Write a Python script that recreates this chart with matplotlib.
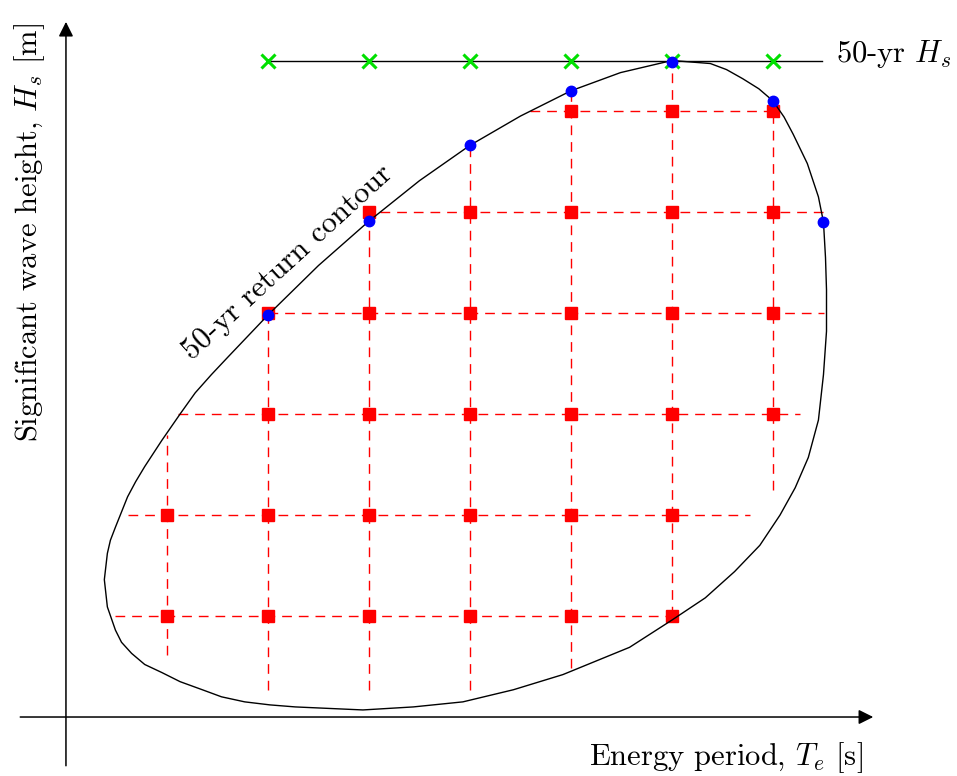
import numpy as np
import matplotlib
matplotlib.use("Agg")
import matplotlib.pyplot as plt

plt.rcParams['font.family'] = ['cmr10', 'DejaVu Serif']
plt.rcParams['mathtext.fontset'] = 'cm'
plt.rcParams['axes.formatter.use_mathtext'] = True

# 50-yr return contour (Te, Hs), clockwise from the top
contour_te = [6.00, 6.38, 6.54, 6.70, 6.86, 7.00, 7.11, 7.20, 7.34, 7.45, 7.50, 7.52,
              7.53, 7.53, 7.50, 7.45, 7.35, 7.22, 7.07, 6.87, 6.62, 6.33, 6.00, 5.58,
              4.92, 4.43, 3.93, 3.44, 2.94, 2.27, 2.02, 1.77, 1.54, 1.35, 1.13, 0.95,
              0.78, 0.65, 0.55, 0.49, 0.41, 0.38, 0.41, 0.44, 0.49, 0.61, 0.69, 0.78,
              0.95, 1.13, 1.28, 1.44, 1.60, 1.80, 2.00, 2.50, 3.00, 3.50, 4.00, 4.50,
              5.00, 5.49, 6.00]
contour_hs = [6.50, 6.47, 6.41, 6.32, 6.22, 6.10, 5.94, 5.77, 5.48, 5.15, 4.90, 4.55,
              4.23, 3.82, 3.39, 2.94, 2.57, 2.27, 2.00, 1.70, 1.44, 1.18, 0.96, 0.69,
              0.42, 0.27, 0.15, 0.10, 0.07, 0.10, 0.12, 0.15, 0.20, 0.27, 0.35, 0.44,
              0.52, 0.63, 0.74, 0.86, 1.09, 1.36, 1.62, 1.75, 1.88, 2.18, 2.33, 2.48,
              2.74, 3.00, 3.21, 3.39, 3.56, 3.77, 3.98, 4.47, 4.91, 5.31, 5.66, 5.95,
              6.20, 6.38, 6.50]

# grid points (rows of Hs with the Te columns present)
grid_rows = [1, 2, 3, 4, 5, 6]
grid_cols = [[1, 2, 3, 4, 5, 6],
             [1, 2, 3, 4, 5, 6],
             [2, 3, 4, 5, 6, 7],
             [2, 3, 4, 5, 6, 7],
             [3, 4, 5, 6, 7],
             [5, 6, 7]]

# dashed horizontal lines: Hs, Te start, Te end
h_hs = [1, 2, 3, 4, 5, 6]
h_start = [0.49, 0.61, 1.11, 2.00, 3.11, 4.59]
h_end = [6.00, 6.77, 7.27, 7.51, 7.51, 7.00]

# dashed vertical lines: Te, Hs bottom, Hs top
v_te = [1, 2, 3, 4, 5, 6, 7]
v_bottom = [0.61, 0.27, 0.27, 0.27, 0.49, 1.00, 2.25]
v_top = [2.79, 3.98, 4.91, 5.66, 6.20, 6.50, 6.10]

# points on the contour
dot_te = [2, 3, 4, 5, 6, 7, 7.5]
dot_hs = [3.98, 4.91, 5.66, 6.20, 6.49, 6.10, 4.90]

# 50-yr Hs line
hs50 = 6.5
cross_te = [2, 3, 4, 5, 6, 7]
hs50_te_end = 7.49

fig = plt.figure(figsize=(9.57, 7.76), dpi=100)
ax = fig.add_axes([0, 0, 1, 1])
ax.set_xlim(-0.653, 8.822)
ax.set_ylim(-0.584, 7.099)
ax.axis('off')

# axes with arrows
ax.annotate('', xy=(8.02, 0), xytext=(-0.48, 0),
            arrowprops=dict(arrowstyle='-|>', color='black', lw=1.1, mutation_scale=22))
ax.annotate('', xy=(0, 6.91), xytext=(0, -0.51),
            arrowprops=dict(arrowstyle='-|>', color='black', lw=1.1, mutation_scale=22))

for hs, a, b in zip(h_hs, h_start, h_end):
    ax.plot([a, b], [hs, hs], color='red', lw=1.0, dashes=(7, 5), zorder=2)
for te, a, b in zip(v_te, v_bottom, v_top):
    ax.plot([te, te], [a, b], color='red', lw=1.0, dashes=(7, 5), zorder=2)

for hs, cols in zip(grid_rows, grid_cols):
    ax.plot(cols, [hs] * len(cols), 's', color='red', ms=8.5, zorder=3)

ax.plot(contour_te, contour_hs, color='black', lw=1.0, zorder=4,
        solid_joinstyle='round')
ax.plot([cross_te[0], hs50_te_end], [hs50, hs50], color='black', lw=1.0, zorder=4)
ax.plot(cross_te, [hs50] * len(cross_te), 'x', color='#00e000', ms=10, mew=2.2, zorder=5)
ax.plot(dot_te, dot_hs, 'o', color='blue', ms=7.5, zorder=6)

ax.text(7.62, 6.56, '50-yr $H_s$', fontsize=22, ha='left', va='center')
ax.text(6.53, -0.40, 'Energy period, $T_e$ [s]', fontsize=22, ha='center', va='center')
ax.text(-0.36, 4.80, 'Significant wave height, $H_s$ [m]', fontsize=22,
        rotation=90, ha='center', va='center')
ax.text(2.19, 4.50, '50-yr return contour', fontsize=22, rotation=42.5,
        rotation_mode='anchor', ha='center', va='center')

fig.savefig('out.png', dpi=100)
